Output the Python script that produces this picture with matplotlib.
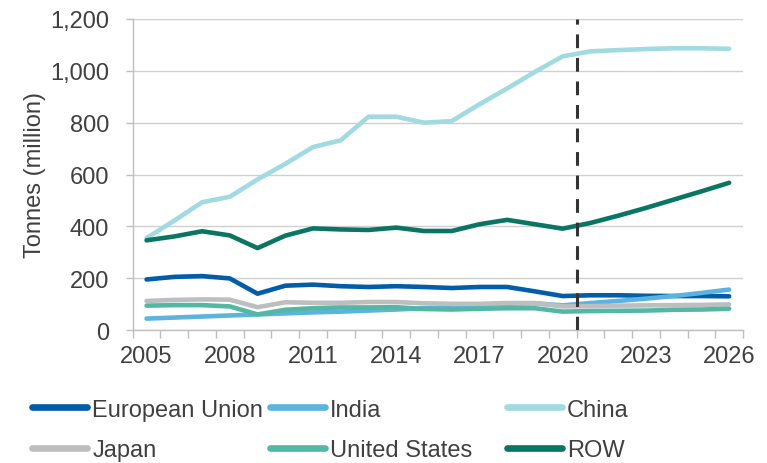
import matplotlib
matplotlib.use("Agg")
import matplotlib.pyplot as plt
import numpy as np

years = list(range(2005, 2027))
eu = [195, 205, 208, 199, 140, 171, 175, 169, 166, 169, 166, 162, 166, 166, 149, 131, 134, 134, 132, 131, 131, 130]
india = [44, 48, 52, 56, 60, 64, 68, 71, 75, 79, 84, 88, 95, 101, 103, 95, 104, 112, 121, 131, 143, 156]
china = [355, 422, 493, 514, 581, 641, 706, 732, 823, 823, 800, 806, 871, 932, 996, 1056, 1075, 1080, 1084, 1087, 1087, 1085]
japan = [112, 116, 118, 117, 88, 107, 105, 105, 108, 108, 103, 101, 101, 104, 104, 91, 92, 94, 95, 96, 97, 99]
us = [94, 96, 96, 91, 60, 78, 84, 87, 87, 88, 81, 79, 82, 84, 84, 71, 73, 74, 75, 78, 79, 82]
row = [346, 361, 381, 365, 316, 364, 392, 388, 386, 395, 382, 382, 408, 425, 408, 391, 413, 441, 471, 503, 535, 568]

series_names = ["European Union", "India", "China", "Japan", "United States", "ROW"]
series_values = [eu, india, china, japan, us, row]
colors = ["#005DAA", "#5BB4E0", "#A1DAE0", "#BCBEC0", "#52B8A3", "#0B7563"]
yticks = [0, 200, 400, 600, 800, 1000, 1200]
xtick_years = [2005, 2008, 2011, 2014, 2017, 2020, 2023, 2026]
forecast_boundary = 2020.5

plt.rcParams['font.family'] = ['Liberation Sans', 'DejaVu Sans']
text_color = "#404040"
fs = 17

fig = plt.figure(figsize=(7.67, 4.64), dpi=100)
ax = fig.add_axes([132.7 / 767, 1 - 331 / 464, (743 - 132.7) / 767, (331 - 20) / 464])

handles = []
for name, vals, c in zip(series_names, series_values, colors):
    h, = ax.plot(years, vals, color=c, lw=3.3, solid_capstyle='round', solid_joinstyle='round', label=name, zorder=3)
    handles.append(h)

ax.axvline(forecast_boundary, color="#333333", lw=2.2, dashes=(4.5, 3.2), zorder=4)

ax.set_xlim(2004.5, 2026.5)
ax.set_ylim(0, 1200)
ax.set_yticks(yticks)
ax.set_yticklabels([f"{v:,}" for v in yticks])
ax.set_xticks(xtick_years)
ax.set_xticklabels([str(y) for y in xtick_years])
ax.set_xticks(np.arange(2004.5, 2027, 1.0), minor=True)
ax.tick_params(axis='x', which='major', length=0, pad=11, labelsize=fs, labelcolor=text_color)
ax.tick_params(axis='x', which='minor', length=6, width=1, color="#BFBFBF", direction='out')
ax.tick_params(axis='y', which='major', length=5, width=1, color="#BFBFBF", labelsize=fs, labelcolor=text_color, pad=12)

ax.grid(axis='y', color="#D0D0D0", lw=1)
ax.set_axisbelow(True)
for s in ['top', 'right']:
    ax.spines[s].set_visible(False)
for s in ['left', 'bottom']:
    ax.spines[s].set_color("#BFBFBF")
    ax.spines[s].set_linewidth(1)

ax.set_ylabel("Tonnes (million)", fontsize=fs, color=text_color, labelpad=3)

# legend: three columns of two entries, row-major order
cols_x = [32, 270, 507]
for ci in range(3):
    hs = [handles[ci], handles[ci + 3]]
    leg = fig.legend(hs, [h.get_label() for h in hs], loc='center left',
                     bbox_to_anchor=(cols_x[ci] / 767, 1 - 431 / 464),
                     frameon=False, fontsize=fs, borderpad=0, borderaxespad=0,
                     handlelength=2.35, handletextpad=0.2, labelspacing=0.8)
    for t in leg.get_texts():
        t.set_color(text_color)
    for lh in leg.get_lines():
        lh.set_linewidth(4.8)
        lh.set_solid_capstyle('round')

fig.savefig("out.png", dpi=100)
